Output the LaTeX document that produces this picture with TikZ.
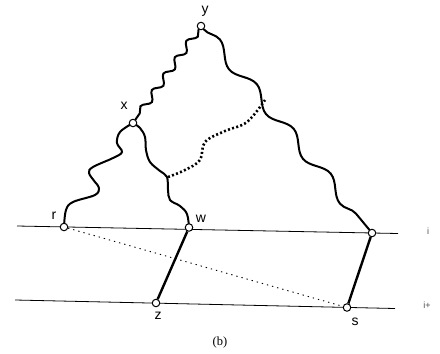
\documentclass[tikz,border=0pt]{standalone}
\usepackage{fontspec}
\setmainfont{Liberation Serif}
\setsansfont{Liberation Sans}
\usetikzlibrary{decorations.pathmorphing, backgrounds}
\tikzset{
  vtx/.style={circle, draw, fill=white, line width=1pt, inner sep=0pt, minimum size=7.5pt},
  tag/.style={font=\sffamily\fontsize{14}{14}\selectfont, inner sep=0pt},
  lvl/.style={font=\sffamily\fontsize{9}{9}\selectfont, inner sep=0pt, black!70},
  level/.style={line width=0.8pt},
  rung/.style={line width=2.4pt},
  wave/.style={line width=2pt, line cap=round},
  hatch/.style={line width=2.6pt, dash pattern=on 2pt off 2.3pt},
  link/.style={line width=0.9pt, dash pattern=on 1.3pt off 4pt}
}

\begin{document}
\begin{tikzpicture}[x=1pt, y=-1pt]
  \useasboundingbox (0,0) rectangle (440,354);
  % the two levels
  \coordinate (a0) at (17,226);
  \coordinate (a1) at (398,233.5);
  \coordinate (b0) at (15,300);
  \coordinate (b1) at (395,308.5);
  \draw[level] (a0) -- (a1);
  \draw[level] (b0) -- (b1);
  \node[lvl] (li) at (428,231) {i};
  \node[lvl] (lj) at (427,305) {i+};
  % vertices
  \node[vtx] (y) at (201,26) {};
  \node[vtx] (x) at (133,123) {};
  \node[vtx] (r) at (64,227) {};
  \node[vtx] (w) at (189,227.5) {};
  \node[vtx] (t) at (372,233) {};
  \node[vtx] (z) at (156,303) {};
  \node[vtx] (s) at (347,307.5) {};
  \node[tag] (ly) at (205,11) {y};
  \node[tag] (lx) at (124,106) {x};
  \node[tag] (lr) at (54,216) {r};
  \node[tag] (lw) at (201,219) {w};
  \node[tag] (lz) at (158,316) {z};
  \node[tag] (ls) at (355,322) {s};
  \node[font=\fontsize{12.5}{12.5}\selectfont] (cap) at (220,342) {(b)};
  % paths
  \begin{scope}[on background layer]
    \draw[wave, decorate, decoration={snake, segment length=20, amplitude=3.5}] (y) -- (x);
    \draw[wave, decorate, decoration={snake, segment length=58, amplitude=6}] (y) -- (t);
    \draw[wave] plot[smooth, tension=0.6] coordinates {(x) (120,132) (117,143) (122,152)
      (113,158) (93,167) (89,173) (95,182) (99,188) (95,195) (73,202) (66,210) (r)};
    \draw[wave] plot[smooth, tension=0.6] coordinates {(x) (140,128) (145,137) (146,150)
      (150,162) (160,171) (167,177) (168,190) (170,200) (180,206) (187,214) (w)};
    \coordinate (h0) at (168,177);
    \coordinate (h1) at (265,100);
    \draw[hatch] plot[smooth, tension=0.6] coordinates {(h0) (185,170) (200,160)
      (205,142) (225,131) (247,122) (h1)};
  \end{scope}
  \draw[rung] (w) -- (z);
  \draw[rung] (t) -- (s);
  \draw[link] (r) -- (s);
\end{tikzpicture}
\end{document}
